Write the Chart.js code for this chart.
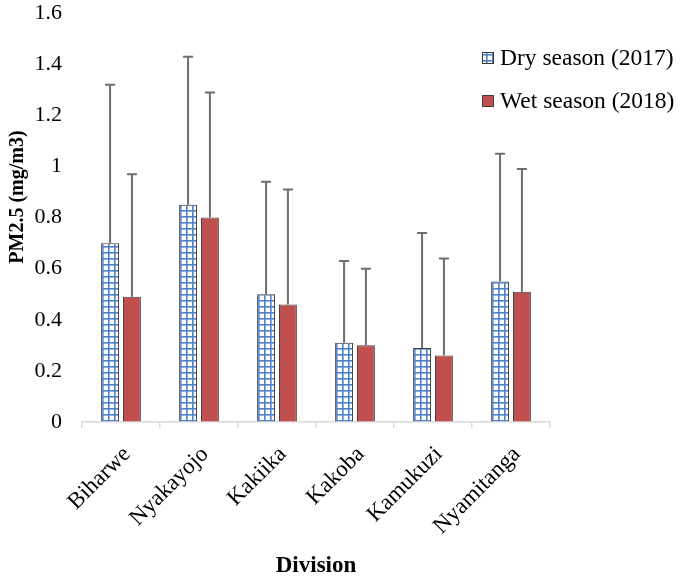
<!DOCTYPE html>
<html><head><meta charset="utf-8">
<script src="https://cdn.jsdelivr.net/npm/chart.js@4.4.0/dist/chart.umd.min.js"></script>
<style>html,body{margin:0;padding:0;background:#fff;}#wrap{width:685px;height:582px;position:relative;}</style>
</head><body><div id="wrap"><canvas id="c" width="685" height="582"></canvas></div>
<script>
const divisions = ['Biharwe','Nyakayojo','Kakiika','Kakoba','Kamukuzi','Nyamitanga'];
const dryMeans = [0.70, 0.85, 0.50, 0.31, 0.29, 0.55];
const dryErr   = [0.62, 0.58, 0.44, 0.32, 0.45, 0.50];
const wetMeans = [0.49, 0.80, 0.46, 0.30, 0.26, 0.51];
const wetErr   = [0.48, 0.49, 0.45, 0.30, 0.38, 0.48];
const yTicks = [0, 0.2, 0.4, 0.6, 0.8, 1, 1.2, 1.4, 1.6];
const seriesLabels = ['Dry season (2017)', 'Wet season (2018)'];
const yTitle = 'PM2.5 (mg/m3)';
const xTitle = 'Division';

const SERIF = "'Liberation Serif', 'Times New Roman', serif";

function gridPattern() {
  const p = document.createElement('canvas');
  p.width = 6; p.height = 6;
  const g = p.getContext('2d');
  g.fillStyle = '#ffffff'; g.fillRect(0, 0, 6, 6);
  g.fillStyle = '#4F81C9';
  g.fillRect(0, 0, 6, 1.6);
  g.fillRect(0, 0, 1.6, 6);
  return g.createPattern(p, 'repeat');
}
const dryFill = gridPattern();
const wetFill = '#C0504D';

const errorBars = {
  id: 'errorBars',
  afterDatasetsDraw(chart) {
    const ctx = chart.ctx, y = chart.scales.y;
    const errs = [dryErr, wetErr];
    chart.data.datasets.forEach((ds, di) => {
      const meta = chart.getDatasetMeta(di);
      meta.data.forEach((bar, i) => {
        const top = y.getPixelForValue(ds.data[i] + errs[di][i]);
        ctx.save();
        ctx.strokeStyle = '#6E6E6E';
        ctx.lineWidth = 2;
        ctx.beginPath();
        ctx.moveTo(bar.x, bar.y);
        ctx.lineTo(bar.x, top);
        ctx.moveTo(bar.x - 5, top);
        ctx.lineTo(bar.x + 5, top);
        ctx.stroke();
        ctx.restore();
      });
    });
  }
};

const customText = {
  id: 'customText',
  afterDraw(chart) {
    const ctx = chart.ctx;
    ctx.save();
    ctx.translate(18, 197);
    ctx.rotate(-Math.PI / 2);
    ctx.font = 'bold 20px ' + SERIF;
    ctx.fillStyle = '#000';
    ctx.textAlign = 'center';
    ctx.textBaseline = 'middle';
    ctx.fillText(yTitle, 0, 0);
    ctx.restore();
    const rows = [58, 101];
    chart.data.datasets.forEach((ds, i) => {
      ctx.save();
      ctx.fillStyle = ds.backgroundColor;
      ctx.fillRect(482, rows[i] - 6, 12, 12);
      ctx.strokeStyle = '#3a3a3a';
      ctx.lineWidth = 1;
      ctx.strokeRect(482.5, rows[i] - 5.5, 11, 11);
      ctx.font = '23.5px ' + SERIF;
      ctx.fillStyle = '#000';
      ctx.textAlign = 'left';
      ctx.textBaseline = 'middle';
      ctx.fillText(ds.label, 500, rows[i] + 1);
      ctx.restore();
    });
  }
};

new Chart(document.getElementById('c'), {
  type: 'bar',
  data: {
    labels: divisions,
    datasets: [
      { label: seriesLabels[0], data: dryMeans, backgroundColor: dryFill, borderColor: '#3c3c3c', borderWidth: 1 },
      { label: seriesLabels[1], data: wetMeans, backgroundColor: wetFill, borderColor: '#3c3c3c', borderWidth: 1 }
    ]
  },
  options: {
    responsive: false,
    animation: false,
    devicePixelRatio: 1,
    categoryPercentage: 0.56,
    barPercentage: 0.82,
    layout: { padding: { top: 0, right: 135, bottom: 0, left: 0 } },
    plugins: { legend: { display: false }, tooltip: { enabled: false } },
    scales: {
      x: {
        grid: { offset: true, drawOnChartArea: false, tickLength: 6, color: '#D9D9D9', lineWidth: 1.5 },
        border: { color: '#D9D9D9', width: 1.5 },
        ticks: { font: { family: SERIF, size: 23 }, color: '#000', minRotation: 45, maxRotation: 45, padding: 13, labelOffset: 6 },
        title: { display: true, text: xTitle, font: { family: SERIF, size: 23, weight: 'bold' }, color: '#000', padding: { top: 0, bottom: 2 } },
        afterFit(scale) { scale.height = 160; }
      },
      y: {
        min: 0, max: 1.6,
        grid: { display: true, color: 'rgba(0,0,0,0)', drawOnChartArea: false, drawTicks: true, tickLength: 20 },
        border: { display: false },
        afterBuildTicks(scale) { scale.ticks = yTicks.map(v => ({ value: v })); },
        ticks: { font: { family: SERIF, size: 22 }, color: '#000', padding: 0, callback: v => String(v) },
        afterFit(scale) { scale.width = 82; }
      }
    }
  },
  plugins: [errorBars, customText]
});
</script></body></html>
